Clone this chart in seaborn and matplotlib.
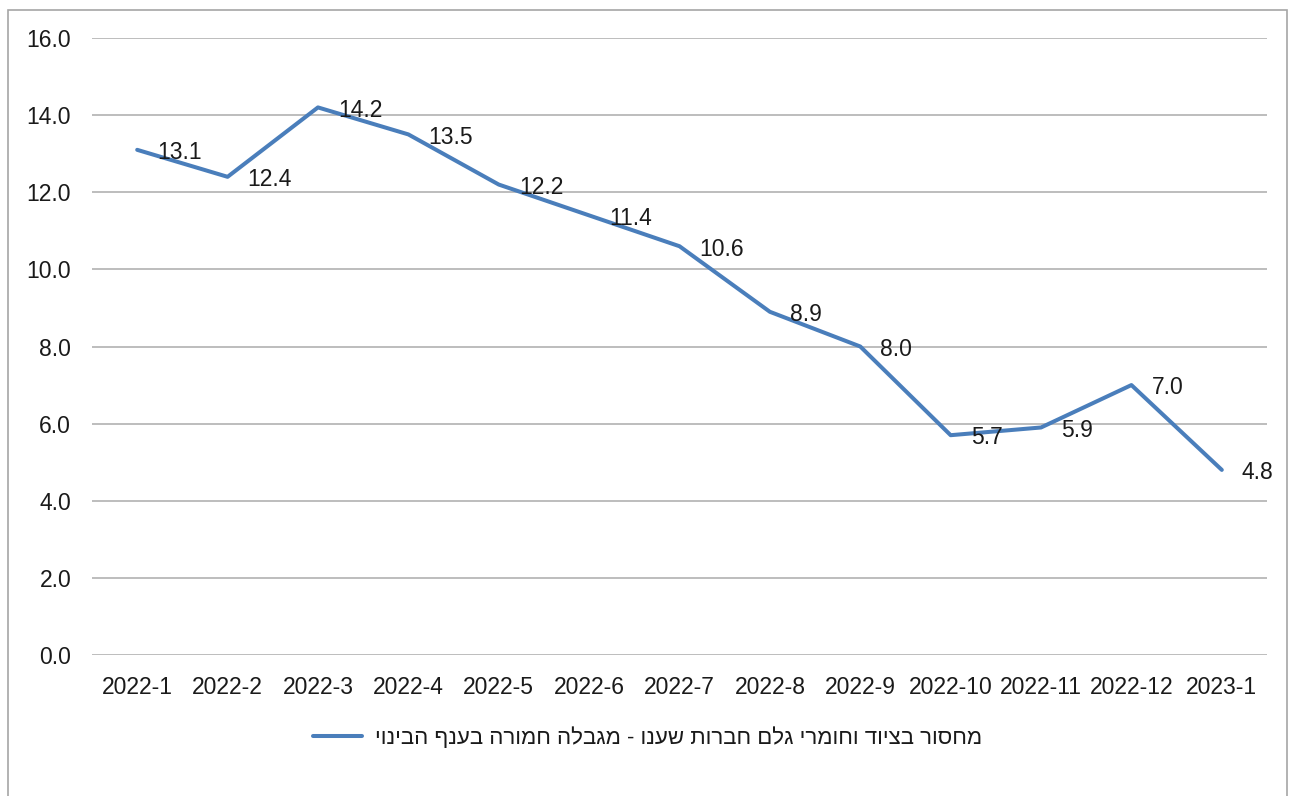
import matplotlib
matplotlib.use("Agg")
import matplotlib.pyplot as plt
import seaborn as sns
import pandas as pd
from matplotlib.patches import Rectangle

months = ["2022-1", "2022-2", "2022-3", "2022-4", "2022-5", "2022-6", "2022-7",
          "2022-8", "2022-9", "2022-10", "2022-11", "2022-12", "2023-1"]
values = [13.1, 12.4, 14.2, 13.5, 12.2, 11.4, 10.6, 8.9, 8.0, 5.7, 5.9, 7.0, 4.8]
series_name = "מחסור בציוד וחומרי גלם חברות שענו - מגבלה חמורה בענף הבינוי"
y_ticks = [0, 2, 4, 6, 8, 10, 12, 14, 16]

sns.set_theme(style="white")
plt.rcParams['font.family'] = ['Liberation Sans', 'DejaVu Sans']

df = pd.DataFrame({"month": months, "value": values})

fig = plt.figure(figsize=(12.95, 7.96), dpi=100)
ax = fig.add_axes([92/1295, 1-655/796, (1267-92)/1295, (655-38)/796])

# visual order for RTL text (matplotlib has no bidi)
label_visual = series_name[::-1]

sns.lineplot(data=df, x="month", y="value", ax=ax, sort=False,
             color="#4A7EBB", linewidth=2.9, label=label_visual)

for i, v in enumerate(values):
    ax.annotate(f"{v:.1f}", (i, v), xytext=(14.5, -2), textcoords="offset points",
                ha="left", va="center", fontsize=16.5, color="#1a1a1a")

ax.set_ylim(0, 16)
ax.set_xlim(-0.5, len(months) - 0.5)
ax.set_yticks(y_ticks)
ax.set_yticklabels([f"{t:.1f}" for t in y_ticks])
ax.grid(axis="y", color="#ababab", linewidth=1.1)
ax.grid(axis="x", visible=False)
ax.set_axisbelow(True)
for s in ax.spines.values():
    s.set_visible(False)
ax.tick_params(axis="both", length=0, labelsize=16.5, labelcolor="#1a1a1a")
ax.tick_params(axis="y", pad=15)
ax.tick_params(axis="x", pad=15)
ax.set_xlabel("")
ax.set_ylabel("")

leg = ax.legend(loc="center", bbox_to_anchor=(0.5, 1-738/796), bbox_transform=fig.transFigure,
                frameon=False, fontsize=16, handlelength=2.2, handletextpad=0.6)
for t in leg.get_texts():
    t.set_color("#1a1a1a")

fig.patches.append(Rectangle((8/1295, -0.02), (1287-8)/1295, 0.987+0.02,
                             transform=fig.transFigure, fill=False,
                             edgecolor="#a6a6a6", linewidth=1.2))

fig.savefig("out.png", dpi=100)
